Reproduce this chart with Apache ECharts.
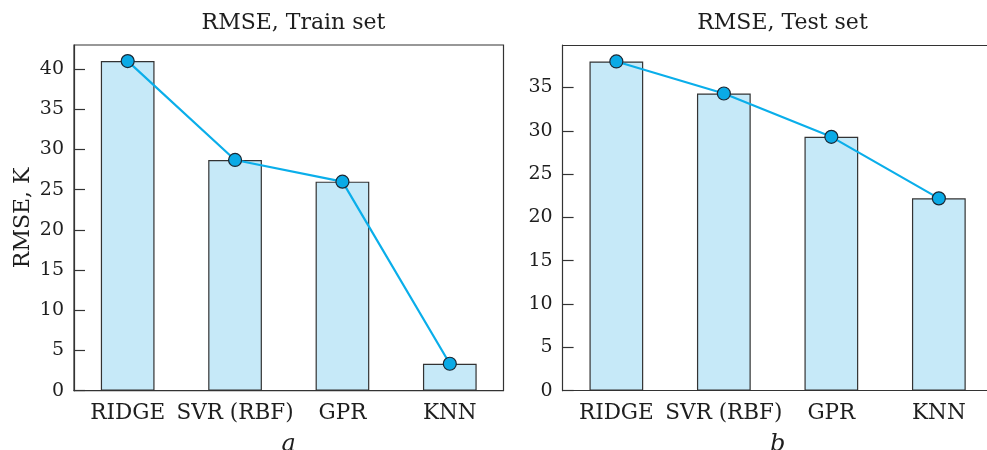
<!DOCTYPE html>
<html>
<head>
<meta charset="utf-8">
<script src="https://cdn.jsdelivr.net/npm/echarts@6/dist/echarts.min.js"></script>
<style>
  html, body { margin: 0; padding: 0; background: #fff; overflow: hidden; }
  #chart { width: 987px; height: 450px; }
</style>
</head>
<body>
<div id="chart"></div>
<script>
// Models compared in both panels
const models = ['RIDGE', 'SVR (RBF)', 'GPR', 'KNN'];
// RMSE (K) on the training set
const trainRmse = [41.0, 28.7, 26.0, 3.35];
// RMSE (K) on the test set
const testRmse = [38.0, 34.3, 29.3, 22.2];
// Y tick values for each panel
const trainTicks = [0, 5, 10, 15, 20, 25, 30, 35, 40];
const testTicks = [0, 5, 10, 15, 20, 25, 30, 35];

const serif = '"DejaVu Serif", "Liberation Serif", serif';
const ink = '#1e1e1e';
const frame = '#333';

function yAxisFor(gridIndex, max, ticks, name) {
  return {
    type: 'value', gridIndex, min: 0, max,
    name: name || '',
    nameLocation: 'middle', nameGap: 40,
    nameTextStyle: { fontFamily: serif, fontSize: 22, color: ink },
    axisLine: { show: true, lineStyle: { color: frame, width: 1.2 } },
    axisTick: { show: true, inside: true, length: 11, customValues: ticks, lineStyle: { color: frame, width: 1.2 } },
    axisLabel: { customValues: ticks, fontFamily: serif, fontSize: 19, color: ink, margin: 10 },
    splitLine: { show: false }
  };
}

function xAxisFor(gridIndex, letter) {
  return {
    type: 'category', gridIndex, data: models,
    name: letter, nameLocation: 'middle', nameGap: 42,
    nameTextStyle: { fontFamily: serif, fontSize: 24, fontStyle: 'italic', color: ink },
    axisLine: { show: true, lineStyle: { color: frame, width: 1.2 } },
    axisTick: { show: false },
    axisLabel: { fontFamily: serif, fontSize: 21.5, color: ink, margin: 12, interval: 0 }
  };
}

// Plain top edge of the frame (no ticks, no labels)
function topEdge(gridIndex) {
  return {
    type: 'category', gridIndex, data: models, position: 'top',
    axisLine: { show: true, onZero: false, lineStyle: { color: frame, width: 1.2 } },
    axisTick: { show: false }, axisLabel: { show: false }, splitLine: { show: false }
  };
}

function barSeries(idx, data) {
  return {
    type: 'bar', xAxisIndex: idx, yAxisIndex: idx, data,
    barWidth: '50%',
    itemStyle: { color: '#c6e9f8', borderColor: frame, borderWidth: 1.2 },
    emphasis: { disabled: true }, z: 2
  };
}

function lineSeries(idx, data) {
  return {
    type: 'line', xAxisIndex: idx, yAxisIndex: idx, data,
    symbol: 'circle', symbolSize: 13, clip: false,
    lineStyle: { color: '#0aaeea', width: 2.2 },
    itemStyle: { color: '#0aaae6', borderColor: '#1b2733', borderWidth: 1.2 },
    emphasis: { disabled: true }, z: 3
  };
}

const chart = echarts.init(document.getElementById('chart'), null, { renderer: 'canvas' });
chart.setOption({
  animation: false,
  backgroundColor: '#fff',
  title: [
    { text: 'RMSE, Train set', left: 288.5, top: 7, textAlign: 'center',
      textStyle: { fontFamily: serif, fontSize: 22, fontWeight: 'normal', color: ink } },
    { text: 'RMSE, Test set', left: 777.5, top: 7, textAlign: 'center',
      textStyle: { fontFamily: serif, fontSize: 22, fontWeight: 'normal', color: ink } }
  ],
  grid: [
    { left: 74, top: 45, width: 429.5, height: 345.7, outerBoundsMode: 'none',
      show: true, borderColor: frame, borderWidth: 1.2, backgroundColor: 'transparent' },
    // right panel runs past the page edge, so only its left, top and bottom edges are drawn
    { left: 562.6, top: 45, width: 430, height: 345.7, outerBoundsMode: 'none', show: false }
  ],
  xAxis: [xAxisFor(0, 'a'), xAxisFor(1, 'b'), topEdge(1)],
  yAxis: [yAxisFor(0, 43.0, trainTicks, 'RMSE, K'), yAxisFor(1, 39.9, testTicks)],
  series: [
    barSeries(0, trainRmse), lineSeries(0, trainRmse),
    barSeries(1, testRmse), lineSeries(1, testRmse)
  ]
});
</script>
</body>
</html>
